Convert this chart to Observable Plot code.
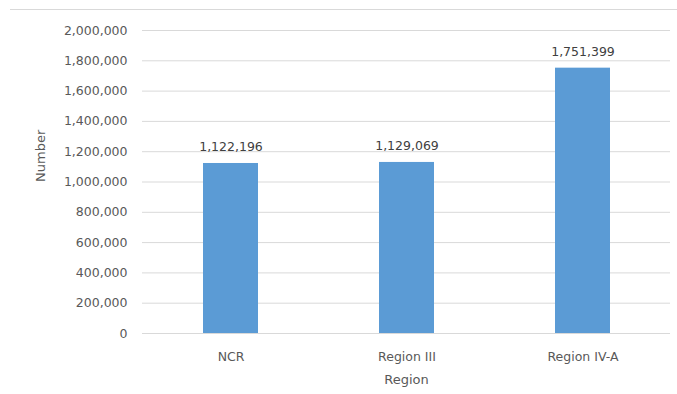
<!DOCTYPE html>
<html>
<head>
<meta charset="utf-8">
<script src="https://cdn.jsdelivr.net/npm/d3@7"></script>
<script src="https://cdn.jsdelivr.net/npm/@observablehq/plot@0.6"></script>
<style>
  body { margin: 0; background: #fff; }
  #wrap { position: relative; width: 677px; height: 394px; overflow: hidden; }
  #topline { position: absolute; left: 10px; right: 0; top: 9px; border-top: 1px solid #d9d9d9; }
</style>
</head>
<body>
<div id="wrap"><div id="topline"></div></div>
<script>
const regions = ["NCR", "Region III", "Region IV-A"];
const numbers = [1122196, 1129069, 1751399];
const yTicks = [0, 200000, 400000, 600000, 800000, 1000000, 1200000, 1400000, 1600000, 1800000, 2000000];

const data = regions.map((r, i) => ({region: r, value: numbers[i]}));
const fmt = d3.format(",");
const font = "'DejaVu Sans', sans-serif";

const chart = Plot.plot({
  width: 677,
  height: 394,
  marginLeft: 142,
  marginRight: 7,
  marginTop: 30,
  marginBottom: 61,
  style: {fontFamily: font, fontSize: "12px", color: "#595959", background: "transparent"},
  x: {domain: regions, paddingInner: 0.69, paddingOuter: 0.345, label: null},
  y: {domain: [0, 2000000], label: null},
  marks: [
    Plot.gridY(yTicks, {stroke: "#d9d9d9", strokeOpacity: 1}),
    Plot.axisY(yTicks, {tickSize: 0, tickPadding: 15, tickFormat: fmt, fill: "#595959", fontSize: 12.5}),
    Plot.axisX({tickSize: 0, tickPadding: 19, fill: "#595959", fontSize: 12.5}),
    Plot.barY(data, {x: "region", y: "value", fill: "#5b9bd5"}),
    Plot.text(data, {x: "region", y: "value", text: d => fmt(d.value), dy: -16, fill: "#404040", fontSize: 12.5}),
    Plot.text(["Region"], {frameAnchor: "bottom", dy: 50, fill: "#595959", fontSize: 13}),
    Plot.text(["Number"], {frameAnchor: "left", dx: -102, rotate: -90, fill: "#595959", fontSize: 13})
  ]
});
document.getElementById("wrap").appendChild(chart);
</script>
</body>
</html>
